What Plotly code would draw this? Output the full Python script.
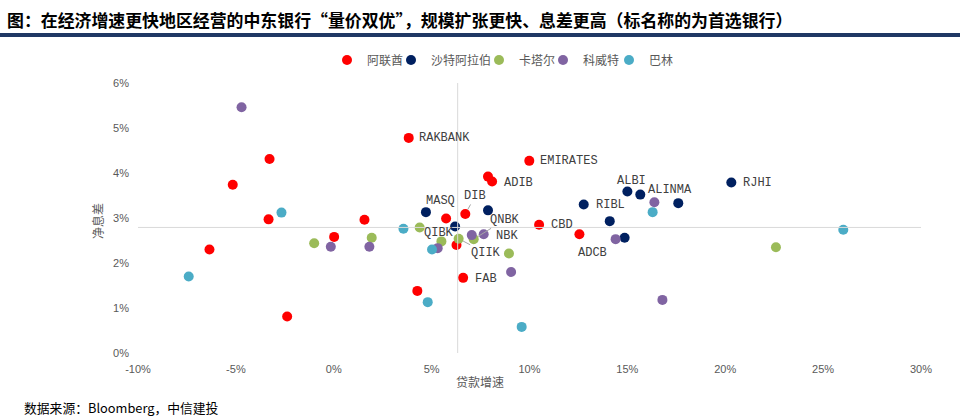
import plotly.graph_objects as go

# ---------------- data (loan growth %, net interest margin %) ----------------
uae_x = [-3.28, -5.16, -3.33, -6.35, 0.02, -2.38, 3.83, 9.99, 7.88, 8.09, 5.74, 6.72, 1.57, 6.27, 6.61, 4.27, 10.49, 12.55]
uae_y = [4.31, 3.74, 2.97, 2.30, 2.58, 0.81, 4.78, 4.27, 3.92, 3.81, 2.99, 3.09, 2.96, 2.40, 1.67, 1.38, 2.85, 2.64]
uae_lbl = ["", "", "", "", "", "", "RAKBANK", "EMIRATES", "", "ADIB", "", "DIB", "", "", "FAB", "", "CBD", "ADCB"]

ksa_x = [4.71, 7.88, 6.20, 12.77, 20.31, 15.00, 15.66, 17.60, 14.10, 14.86]
ksa_y = [3.13, 3.17, 2.81, 3.30, 3.79, 3.59, 3.52, 3.33, 2.93, 2.56]
ksa_lbl = ["MASQ", "", "", "RIBL", "RJHI", "ALBI", "ALINMA", "", "", ""]

qat_x = [-1.00, 4.39, 1.94, 5.50, 6.38, 7.15, 8.95, 22.59]
qat_y = [2.44, 2.79, 2.56, 2.48, 2.54, 2.53, 2.21, 2.35]
qat_lbl = ["", "", "", "QIBK", "QIIK", "QNBK", "", ""]

kwt_x = [-4.71, -0.15, 1.82, 5.31, 7.05, 7.66, 9.06, 16.38, 14.40, 16.79]
kwt_y = [5.46, 2.36, 2.36, 2.33, 2.62, 2.64, 1.80, 3.35, 2.53, 1.18]
kwt_lbl = ["", "", "", "", "", "NBK", "", "", "", ""]

bhr_x = [-2.67, -7.41, 3.56, 5.02, 4.80, 16.29, 26.03, 9.60]
bhr_y = [3.12, 1.70, 2.76, 2.30, 1.13, 3.13, 2.74, 0.58]
bhr_lbl = ["", "", "", "", "", "", "", ""]

series_names = ["阿联酋", "沙特阿拉伯", "卡塔尔", "科威特", "巴林"]
series_x = [uae_x, ksa_x, qat_x, kwt_x, bhr_x]
series_y = [uae_y, ksa_y, qat_y, kwt_y, bhr_y]
series_lbl = [uae_lbl, ksa_lbl, qat_lbl, kwt_lbl, bhr_lbl]

avg_growth = 6.33   # vertical reference line
avg_nim = 2.79      # horizontal reference line

x_ticks = [-10, -5, 0, 5, 10, 15, 20, 25, 30]
x_ticktext = ["-10%", "-5%", "0%", "5%", "10%", "15%", "20%", "25%", "30%"]
y_ticks = [0, 1, 2, 3, 4, 5, 6]
y_ticktext = ["0%", "1%", "2%", "3%", "4%", "5%", "6%"]

# ---------------- styles ----------------
colors = ["#FF0000", "#002060", "#9BBB59", "#8064A2", "#4BACC6"]
legend_centers_px = [368, 444, 520, 584, 644]
# label offsets in pixels (dx right, dy down); True = leader line
label_style = {
    "RAKBANK": (35.5, 0, False), "EMIRATES": (39.3, 0, False), "ADIB": (26.7, 1.4, False),
    "MASQ": (15, -11.3, False), "DIB": (10, -18, True), "QNBK": (31, -19.3, True),
    "QIBK": (-2.4, -8, False), "NBK": (23, 1.7, False), "QIIK": (27.7, 14.6, True),
    "FAB": (23.2, 1.3, False), "CBD": (22.5, 0.6, False), "ADCB": (12.6, 19, False),
    "RIBL": (27, 0.7, False), "ALBI": (4.3, -10.5, False), "ALINMA": (29.5, -4.5, False),
    "RJHI": (26, 0.6, False),
}

CJK = "Noto Sans CJK SC"
GRAY = "#595959"
L, R, T, B = 138, 39, 83, 66
PW, PH = 960 - L - R, 419 - T - B


def px_x(p):
    return (p - L) / PW


def px_y(p):
    return (419 - B - p) / PH


fig = go.Figure()
legend_layouts = {}
for i, (name, xs, ys, c) in enumerate(zip(series_names, series_x, series_y, colors)):
    lg = "legend" if i == 0 else f"legend{i + 1}"
    fig.add_trace(go.Scatter(
        x=xs, y=ys, mode="markers", name=name, legend=lg,
        marker=dict(color=c, size=10, line=dict(width=0)),
    ))
    legend_layouts[lg] = dict(
        orientation="h", x=px_x(legend_centers_px[i]), xanchor="center",
        y=px_y(60), yanchor="middle", itemwidth=30,
        font=dict(family=CJK, size=12, color=GRAY), bgcolor="rgba(0,0,0,0)",
    )

annotations = []
for xs, ys, lbls in zip(series_x, series_y, series_lbl):
    for x, y, t in zip(xs, ys, lbls):
        if not t:
            continue
        dx, dy, arrow = label_style[t]
        base = dict(text=t, font=dict(family="Liberation Mono", size=12, color="#404040"))
        if arrow:
            annotations.append(dict(base, x=x, y=y, xref="x", yref="y", showarrow=True,
                                    ax=dx, ay=dy, arrowhead=0, arrowwidth=1,
                                    arrowcolor="#A6A6A6", standoff=5, startstandoff=0))
        else:
            annotations.append(dict(base, x=x, y=y, xref="x", yref="y", showarrow=False,
                                    xshift=dx, yshift=-dy))

# title, source, axis titles
annotations += [
    dict(text="<b>图：在经济增速更快地区经营的中东银行“量价双优”，规模扩张更快、息差更高（标名称的为首选银行）</b>",
         xref="paper", yref="paper", x=px_x(5), y=px_y(20),
         xanchor="left", yanchor="middle", showarrow=False,
         font=dict(family=CJK, size=16.9, color="#000000")),
    dict(text="数据来源：Bloomberg，中信建投",
         xref="paper", yref="paper", x=px_x(22), y=px_y(407),
         xanchor="left", yanchor="middle", showarrow=False,
         font=dict(family=CJK, size=12.8, color="#000000")),
    dict(text="贷款增速", xref="paper", yref="paper", x=px_x(480), y=px_y(381),
         xanchor="center", yanchor="middle", showarrow=False,
         font=dict(family=CJK, size=12, color=GRAY)),
    dict(text="净息差", xref="paper", yref="paper", x=px_x(97), y=px_y(221),
         xanchor="center", yanchor="middle", showarrow=False, textangle=-90,
         font=dict(family=CJK, size=12, color=GRAY)),
]

shapes = [
    dict(type="line", xref="x", yref="paper", x0=avg_growth, x1=avg_growth, y0=0, y1=1,
         line=dict(color="#D9D9D9", width=1)),
    dict(type="line", xref="paper", yref="y", x0=0, x1=1, y0=avg_nim, y1=avg_nim,
         line=dict(color="#D9D9D9", width=1)),
    dict(type="line", xref="paper", yref="paper", x0=px_x(0), x1=px_x(960),
         y0=px_y(35), y1=px_y(35), line=dict(color="#1F3864", width=4)),
]

fig.update_layout(
    width=960, height=419,
    margin=dict(l=L, r=R, t=T, b=B),
    paper_bgcolor="white", plot_bgcolor="white",
    showlegend=True,
    xaxis=dict(range=[-10, 30], tickvals=x_ticks, ticktext=x_ticktext, showgrid=False,
               zeroline=False, showline=False, ticks="",
               tickfont=dict(family="Liberation Sans", size=11, color=GRAY),
               ticklabelstandoff=8),
    yaxis=dict(range=[0, 6], tickvals=y_ticks, ticktext=y_ticktext, showgrid=False,
               zeroline=False, showline=False, ticks="",
               tickfont=dict(family="Liberation Sans", size=11, color=GRAY),
               ticklabelstandoff=8),
    annotations=annotations,
    shapes=shapes,
    **legend_layouts,
)

fig.write_html("out.html")
